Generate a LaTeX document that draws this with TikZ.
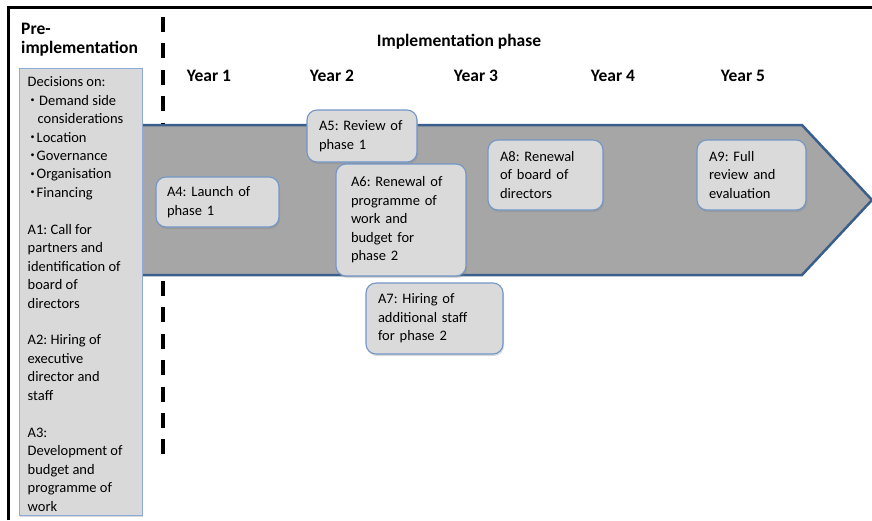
\documentclass[tikz,border=0pt]{standalone}
\usepackage{fontspec}
\setmainfont{Carlito}
\usetikzlibrary{shadows}
\definecolor{arrowfill}{HTML}{A6A6A6}
\definecolor{arrowline}{HTML}{3A5F8C}
\definecolor{boxfill}{HTML}{DADADA}
\definecolor{boxline}{HTML}{7396C8}
\definecolor{sidefill}{HTML}{D9D9D9}
\definecolor{sideline}{HTML}{8EAADB}
% small raised bullet used in the decision list
\newcommand{\bul}{\makebox[6pt][l]{\raisebox{2.5pt}{\fontsize{8}{8}\selectfont\textbullet}}}

\begin{document}
\begin{tikzpicture}[x=1pt,y=-1pt,
  body/.style={font=\fontsize{14.5}{18.45}\selectfont},
  head/.style={font=\fontsize{17.5}{19}\selectfont\bfseries, inner sep=0pt},
  event/.style={body, draw=boxline, line width=1.1pt, fill=boxfill,
    rounded corners=10pt, align=left, inner xsep=12pt, inner ysep=0pt,
    drop shadow={shadow xshift=1pt, shadow yshift=-2pt, opacity=0.3}},
  sidebox/.style={draw=sideline, line width=1pt, fill=sidefill, inner sep=0pt,
    drop shadow={shadow xshift=1pt, shadow yshift=-2pt, opacity=0.3}},
  sidetext/.style={body, align=left, inner sep=0pt, anchor=north west},
  divider/.style={line width=4pt, dash pattern=on 15pt off 11.4pt},
  timeline/.style={fill=arrowfill, draw=arrowline, line width=2.5pt, line join=miter},
]
\useasboundingbox (0,0) rectangle (872,520);

% frame
\draw[line width=3pt] (8.5,520) -- (8.5,7.5) -- (872,7.5);

% phase divider
\coordinate (divtop) at (163,17);
\coordinate (divbot) at (163,455);
\draw[divider] (divtop) -- (divbot);

% headings
\node[head, anchor=base west] (pre1) at (21,34) {Pre-};
\node[head, anchor=base west] (pre2) at (21,53) {implementation};
\node[head, anchor=base] (impl) at (459,46) {Implementation phase};
\node[head, anchor=base] (y1) at (209,81) {Year 1};
\node[head, anchor=base] (y2) at (332,81) {Year 2};
\node[head, anchor=base] (y3) at (476,81) {Year 3};
\node[head, anchor=base] (y4) at (613,81) {Year 4};
\node[head, anchor=base] (y5) at (743,81) {Year 5};

% timeline arrow
\draw[timeline] (140,125) -- (802,125) -- (872,200) -- (802,275) -- (140,275) -- cycle;

% pre-implementation decisions
\node[sidebox, minimum width=123pt, minimum height=447pt] (side) at (80.5,291.5) {};
\node[sidetext] (sidelist) at (27.5,76.5) {%
Decisions~on:\\
\hspace*{3pt}\bul\hspace*{2.5pt}Demand~side\\
\hspace*{10pt}considerations\\
\hspace*{3pt}\bul Location\\
\hspace*{3pt}\bul Governance\\
\hspace*{3pt}\bul Organisation\\
\hspace*{3pt}\bul Financing\\[18.45pt]
A1:~Call~for\\
partners~and\\
identification~of\\
board~of\\
directors\\[18.45pt]
A2:~Hiring~of\\
executive\\
director~and\\
staff\\[18.45pt]
A3:\\
Development~of\\
budget~and\\
programme~of\\
work};

% activities
\node[event, inner xsep=11pt, text width=101pt, minimum height=50pt] (a4) at (217.5,202) {A4:~Launch~of\\phase~1};
\node[event, text width=86pt, minimum height=52pt] (a5) at (362,136) {A5:~Review~of\\phase~1};
\node[event, inner xsep=15pt, text width=100pt, minimum height=112pt] (a6) at (401,220) {A6:~Renewal~of\\programme~of\\work~and\\budget~for\\phase~2};
\node[event, text width=113pt, minimum height=71pt] (a7) at (434.5,318.5) {A7:~Hiring~of\\additional~staff\\for~phase~2};
\node[event, text width=91pt, minimum height=70pt] (a8) at (545.5,175) {A8:~Renewal\\of~board~of\\directors};
\node[event, text width=85pt, minimum height=70pt] (a9) at (751.5,175) {A9:~Full\\review~and\\evaluation};
\end{tikzpicture}
\end{document}
